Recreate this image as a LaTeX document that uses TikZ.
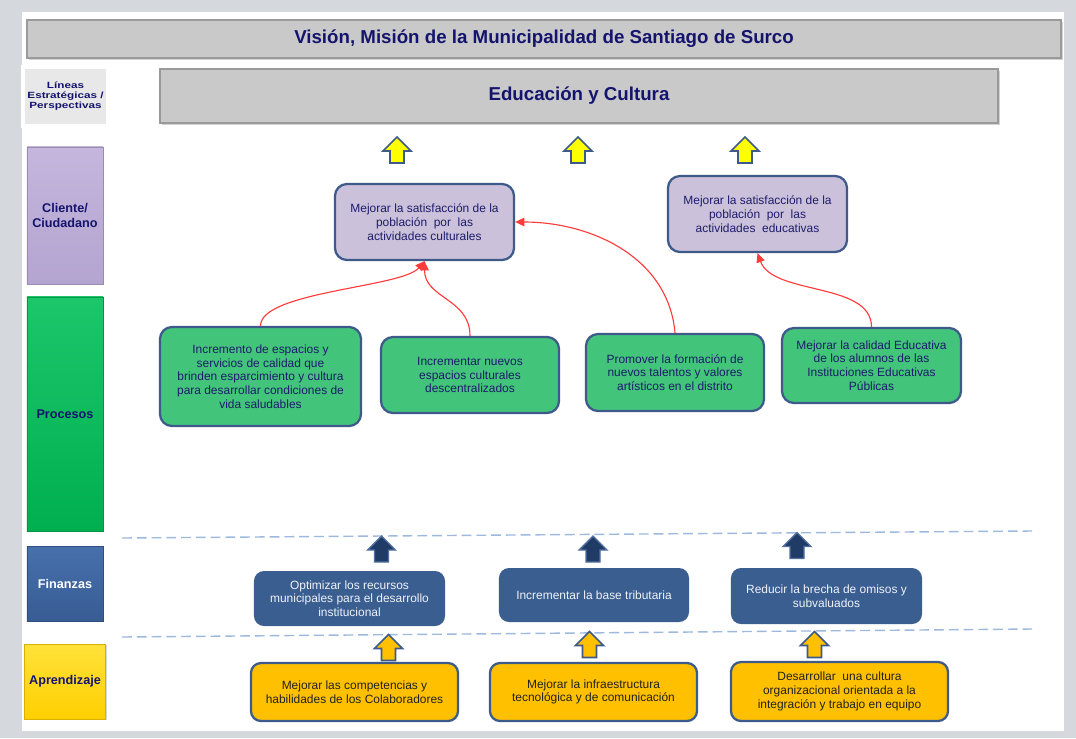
\documentclass[tikz,border=0pt]{standalone}
\usepackage{fontspec}
\setmainfont{Liberation Sans}
\newfontfamily\widesans[FakeStretch=1.3]{Liberation Sans}
\usetikzlibrary{arrows.meta,shadows}

\definecolor{framegray}{HTML}{D5D9DD}
\definecolor{bargray}{HTML}{C9C9C9}
\definecolor{barborder}{HTML}{9A9A9A}
\definecolor{titlenavy}{HTML}{14146E}
\definecolor{boxnavy}{HTML}{1C1C6C}
\definecolor{boxborder}{HTML}{3D5A8A}
\definecolor{clientfill}{HTML}{CCC1DA}
\definecolor{procfill}{HTML}{43C47B}
\definecolor{finfill}{HTML}{3B5E91}
\definecolor{fintext}{HTML}{EEF2F8}
\definecolor{aprfill}{HTML}{FFC000}
\definecolor{aprtext}{HTML}{222222}
\definecolor{dashblue}{HTML}{9DB9DE}
\definecolor{linkred}{HTML}{FF3B3B}
\definecolor{arrowyellow}{HTML}{FFFF00}
\definecolor{arrownavy}{HTML}{1F3B66}
\definecolor{arrowedge}{HTML}{52719F}
\definecolor{clientop}{HTML}{C4B6DD}
\definecolor{clientbot}{HTML}{B4A4D0}
\definecolor{proctop}{HTML}{1CC66A}
\definecolor{procbot}{HTML}{00AF50}
\definecolor{fintop}{HTML}{4770AC}
\definecolor{finbot}{HTML}{385C94}
\definecolor{aprtop}{HTML}{FFE23A}
\definecolor{aprbot}{HTML}{FFCF00}

\begin{document}
\begin{tikzpicture}[x=0.025cm,y=-0.025cm,
                bar/.style={draw=barborder,fill=bargray,line width=1pt,text=titlenavy,
                        font=\fontsize{13.3}{15}\selectfont\bfseries,
                        drop shadow={shadow xshift=1.2pt,shadow yshift=-1.2pt,opacity=.35}},
                lado/.style={minimum width=1.9cm,line width=.6pt,align=center,
                        font=\fontsize{9}{11}\selectfont\bfseries,
                        drop shadow={shadow xshift=1pt,shadow yshift=-1pt,opacity=.3}},
                caja/.style={rounded corners=.3cm,line width=1.6pt,draw=boxborder,align=center,
                        font=\fontsize{8.5}{9.8}\selectfont},
                cliente/.style={caja,fill=clientfill,text=boxnavy,minimum width=4.475cm,minimum height=1.9cm},
                proceso/.style={caja,fill=procfill,text=boxnavy},
                finanza/.style={caja,draw=none,rounded corners=.25cm,fill=finfill,text=fintext},
                aprende/.style={caja,rounded corners=.25cm,fill=aprfill,text=aprtext},
                enlace/.style={-{Triangle[length=6.5pt,width=6pt]},color=linkred,line width=.8pt},
                guia/.style={draw=dashblue,line width=1pt,dash pattern=on 7pt off 3.5pt},
                uparrow/.pic={\path[pic actions](-7,13)--(-7,1)--(-14,1)--(0,-13)--(14,1)--(7,1)--(7,13)--cycle;}]
                \useasboundingbox (0,0) rectangle (1076,738);
                \fill[framegray](0,0) rectangle (1076,738);
                \fill[white](22,12) rectangle (1064,731);
                % encabezados
                \node[bar,minimum width=25.85cm,minimum height=.95cm](vision)at(544, 39){Visión, Misión de la Municipalidad de Santiago de Surco};
                \node[bar,minimum width=20.95cm,minimum height=1.35cm](tema)at(579, 96){Educación y Cultura};
                \node[lado,draw=white,line width=2.5pt,fill=black!9,minimum height=1.475cm,text=titlenavy,
                        font=\widesans\fontsize{6.4}{7.2}\selectfont\bfseries](lineas)at(65.5, 96.5){Líneas\\Estratégicas /\\Perspectivas};
                % perspectivas
                \node[lado,top color=clientop,bottom color=clientbot,draw=clientbot!85!black,
                        minimum height=3.425cm,text=titlenavy](cliente)at(65, 215.5){Cliente/\\Ciudadano};
                \node[lado,top color=proctop,bottom color=procbot,draw=procbot!85!black,
                        minimum height=5.85cm,text=titlenavy](procesos)at(65, 414){Procesos};
                \node[lado,top color=fintop,bottom color=finbot,draw=finbot!85!black,
                        minimum height=1.875cm,text=white](finanzas)at(65, 583.5){Finanzas};
                \node[lado,top color=aprtop,bottom color=aprbot,draw=aprbot!85!black,
                        minimum height=1.875cm,text=titlenavy](aprendizaje)at(65, 681.5){Aprendizaje};
                % objetivos cliente
                \node[cliente](c1)at(424.5, 222){Mejorar la satisfacción de la\\población \ por \ las\\actividades culturales};
                \node[cliente](c2)at(757.5, 214){Mejorar la satisfacción de la\\población \ por \ las\\actividades \ educativas};
                % objetivos procesos
                \node[proceso,minimum width=5.025cm,minimum height=2.475cm](p1)at(260.5, 376.5){Incremento de espacios y\\servicios de calidad que\\brinden esparcimiento y cultura\\para desarrollar condiciones de\\vida saludables};
                \node[proceso,minimum width=4.45cm,minimum height=1.9cm](p2)at(470, 375){Incrementar nuevos\\espacios culturales\\descentralizados};
                \node[proceso,minimum width=4.45cm,minimum height=1.925cm](p3)at(675, 372.5){Promover la formación de\\nuevos talentos y valores\\artísticos en el distrito};
                \node[proceso,minimum width=4.475cm,minimum height=1.875cm](p4)at(871.5, 365.5){Mejorar la calidad Educativa\\de los alumnos de las\\Instituciones Educativas\\Públicas};
                % objetivos finanzas
                \node[finanza,minimum width=4.775cm,minimum height=1.375cm](f1)at(349.5, 598.5){Optimizar los recursos\\municipales para el desarrollo\\institucional};
                \node[finanza,minimum width=4.75cm,minimum height=1.35cm](f2)at(594, 595){Incrementar la base tributaria};
                \node[finanza,minimum width=4.775cm,minimum height=1.4cm](f3)at(826.5, 596){Reducir la brecha de omisos y\\subvaluados};
                % objetivos aprendizaje
                \node[aprende,minimum width=5.175cm,minimum height=1.45cm](a1)at(354.5, 692){Mejorar las competencias y\\habilidades de los Colaboradores};
                \node[aprende,minimum width=5.175cm,minimum height=1.45cm](a2)at(593.5, 692){Mejorar la infraestructura\\tecnológica y de comunicación};
                \node[aprende,minimum width=5.425cm,minimum height=1.475cm](a3)at(839.5, 691.5){Desarrollar \ una cultura\\organizacional orientada a la\\integración y trabajo en equipo};
                % separadores
                \coordinate(g1)at(122, 538);
                \coordinate(g2)at(1032, 531);
                \coordinate(g3)at(122, 637);
                \coordinate(g4)at(1032, 629);
                \draw[guia](g1) -- (g2);
                \draw[guia](g3) -- (g4);
                % flechas de bloque
                \pic[fill=arrowyellow,draw=boxborder,line width=1.2pt](ya1)at(397, 150){uparrow};
                \pic[fill=arrowyellow,draw=boxborder,line width=1.2pt](ya2)at(578, 150){uparrow};
                \pic[fill=arrowyellow,draw=boxborder,line width=1.2pt](ya3)at(745, 150){uparrow};
                \pic[fill=arrownavy,draw=arrowedge,line width=1pt](na1)at(381.5, 549){uparrow};
                \pic[fill=arrownavy,draw=arrowedge,line width=1pt](na2)at(593, 549){uparrow};
                \pic[fill=arrownavy,draw=arrowedge,line width=1pt](na3)at(797, 545.5){uparrow};
                \pic[fill=aprfill,draw=boxborder,line width=1.2pt](oa1)at(388.5, 647.5){uparrow};
                \pic[fill=aprfill,draw=boxborder,line width=1.2pt](oa2)at(589.5, 644.5){uparrow};
                \pic[fill=aprfill,draw=boxborder,line width=1.2pt](oa3)at(814.5, 644.5){uparrow};
                % relaciones causa-efecto
                \path[enlace](p1.north) edge[out=90,in=-130,looseness=.5] (c1.south)
                (p2.north) edge[out=90,in=-90,looseness=1.1] (c1.south)
                (p3.north) edge[out=95,in=0,looseness=1] (c1.east)
                (p4.north) edge[out=90,in=-70,looseness=.85] (c2.south);
\end{tikzpicture}
\end{document}
